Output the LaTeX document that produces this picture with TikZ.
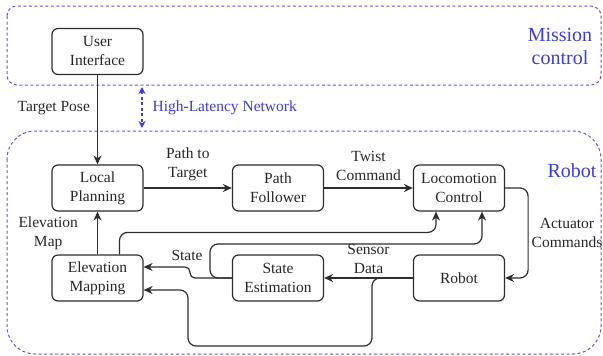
\documentclass[tikz,border=0pt]{standalone}
\usepackage{fontspec}
\setmainfont{Liberation Serif}
\usetikzlibrary{arrows.meta,positioning}
\definecolor{netblue}{RGB}{60,60,215}
\definecolor{linegray}{RGB}{45,45,45}

\begin{document}
\begin{tikzpicture}[x=1pt,y=-1pt,
    font=\fontsize{15.5}{19}\selectfont,
    block/.style={draw=linegray,line width=1.2pt,rounded corners=6pt,minimum width=91pt,minimum height=46pt,align=center,inner sep=2pt,text=black!85},
    flow/.style={draw=linegray,line width=1.2pt,rounded corners=8pt,-{Stealth[length=9pt,width=8pt]}},
    lbl/.style={align=center,inner sep=1pt,text=black!85},
    frame/.style={draw=netblue!85,line width=1pt,dash pattern=on 3pt off 2.5pt},
    zone/.style={text=netblue,font=\fontsize{20}{23}\selectfont,align=center},
    netlink/.style={draw=netblue,line width=1.2pt,dash pattern=on 3pt off 2.5pt,{Stealth[length=7pt,width=7pt]}-{Stealth[length=7pt,width=7pt]}}]
    \useasboundingbox (0,0) rectangle (603,356);

    % the two areas
    \draw[frame,rounded corners=10pt] (7,6) rectangle (601,85);
    \draw[frame,rounded corners=28pt] (7,131) rectangle (601,354);
    \node[zone] (mission) at (560,46) {Mission\\control};
    \node[zone] (robotarea) at (572,171) {Robot};

    \node[block] (ui) at (97.5,51.5) {User\\Interface};
    \node[block] (lp) at (97.5,188) {Local\\Planning};
    \node[block] (pf) at (278,188) {Path\\Follower};
    \node[block] (lc) at (459,188) {Locomotion\\Control};
    \node[block] (em) at (97.5,278) {Elevation\\Mapping};
    \node[block] (se) at (278,278) {State\\Estimation};
    \node[block] (rb) at (459,278) {Robot};

    \coordinate (nettop) at (142,87);
    \coordinate (netbot) at (142,128);
    \draw[netlink] (nettop) -- node[right=9pt,text=netblue,inner sep=1pt] (netlbl) {High-Latency Network} (netbot);

    \draw[flow] (ui) -- node[lbl,left=6pt,pos=0.37] (tpose) {Target Pose} (lp);
    \draw[flow] (lp) -- node[lbl,above=6pt] (ptt) {Path to\\Target} (pf);
    \draw[flow] (pf) -- node[lbl,above=6pt] (twist) {Twist\\Command} (lc);
    \draw[flow] (lc.east) -- ++(23,0) |- node[lbl,right=2pt,pos=0.25] (act) {Actuator\\Commands} (rb.east);
    \draw[flow] (rb) -- node[lbl,above=3pt] (sens) {Sensor\\Data} (se);
    \draw[flow] (em) -- node[lbl,left=18pt] (emap) {Elevation\\Map} (lp);

    % feedback to mapping and control
    \draw[flow,rounded corners=5pt] (se.west) -- (190,278) -- (190,267) -- ([yshift=11pt]em.east);
    \node[lbl] (statelbl) at (187,255) {State};
    \draw[flow] (rb.west) -- (372,278) -- (372,346) -| (188,290) -- ([yshift=-12pt]em.east);
    \draw[flow] (se.west) -- (210,278) -- (210,244) -| ([xshift=23pt]lc.south);
    \draw[flow] ([xshift=22pt]em.north) -- ++(0,-22) -| ([xshift=-23pt]lc.south);
\end{tikzpicture}
\end{document}
